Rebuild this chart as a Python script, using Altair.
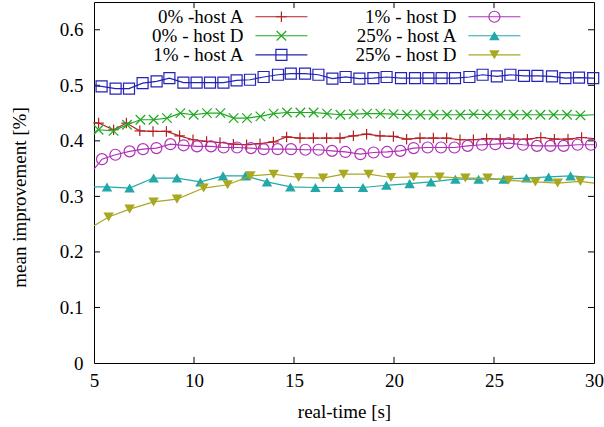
import altair as alt
import pandas as pd

FONT = "Liberation Serif"
FS = 19

SERIES = ["0% -host A", "0% - host D", "1% - host A", "1% - host D", "25% - host A", "25% - host D"]
COLORS = ["#b22222", "#22a822", "#2323b5", "#b030b8", "#22a8a8", "#a8a822"]

RED_T = [5.23, 5.98, 6.62, 7.29, 7.95, 8.62, 9.28, 9.95, 10.63, 11.30, 11.97, 12.63, 13.30, 13.97, 14.63,
         15.30, 15.97, 16.63, 17.30, 17.97, 18.63, 19.30, 19.97, 20.63, 21.30, 21.97, 22.63, 23.30, 23.97,
         24.63, 25.31, 25.99, 26.67, 27.34, 28.02, 28.70, 29.38]
RED_V = [0.432, 0.420, 0.432, 0.418, 0.417, 0.417, 0.409, 0.402, 0.399, 0.397, 0.394, 0.393, 0.395, 0.398,
         0.407, 0.405, 0.405, 0.405, 0.405, 0.409, 0.412, 0.409, 0.408, 0.403, 0.405, 0.405, 0.405, 0.402,
         0.402, 0.404, 0.403, 0.403, 0.403, 0.406, 0.403, 0.403, 0.406]

GREEN_T = [5.23, 5.98, 6.65, 7.32, 7.98, 8.65, 9.32, 9.98, 10.65, 11.32, 11.98, 12.65, 13.32, 13.98, 14.65,
           15.32, 15.98, 16.65, 17.32, 17.98, 18.65, 19.32, 19.98, 20.65, 21.32, 21.98, 22.65, 23.32, 23.98,
           24.65, 25.32, 25.98, 26.65, 27.32, 27.98, 28.65, 29.32]
GREEN_V = [0.420, 0.418, 0.429, 0.438, 0.438, 0.441, 0.450, 0.447, 0.450, 0.450, 0.441, 0.441, 0.444, 0.449,
           0.451, 0.451, 0.451, 0.449, 0.447, 0.448, 0.449, 0.449, 0.448, 0.447, 0.447, 0.447, 0.447, 0.447,
           0.448, 0.447, 0.447, 0.447, 0.447, 0.447, 0.447, 0.447, 0.446]

BLUE_T = [5.38, 6.08, 6.75, 7.43, 8.13, 8.77, 9.47, 10.13, 10.80, 11.47, 12.13, 12.80, 13.48, 14.20, 14.84,
          15.55, 16.22, 16.92, 17.58, 18.27, 18.97, 19.63, 20.35, 21.05, 21.72, 22.38, 23.05, 23.77, 24.43,
          25.14, 25.82, 26.50, 27.17, 27.90, 28.57, 29.25, 29.96]
BLUE_V = [0.498, 0.494, 0.494, 0.504, 0.507, 0.513, 0.505, 0.505, 0.505, 0.505, 0.509, 0.510, 0.515, 0.519,
          0.521, 0.521, 0.519, 0.512, 0.515, 0.512, 0.513, 0.515, 0.513, 0.513, 0.513, 0.513, 0.513, 0.515,
          0.519, 0.516, 0.519, 0.517, 0.517, 0.516, 0.513, 0.514, 0.513]

MAG_T = [5.40, 6.07, 6.78, 7.45, 8.12, 8.82, 9.48, 10.15, 10.85, 11.48, 12.15, 12.85, 13.48, 14.18, 14.85,
         15.57, 16.23, 16.90, 17.57, 18.32, 18.98, 19.65, 20.32, 20.98, 21.68, 22.35, 23.02, 23.68, 24.40,
         25.07, 25.73, 26.45, 27.15, 27.82, 28.48, 29.18, 29.85]
MAG_V = [0.367, 0.375, 0.381, 0.385, 0.387, 0.394, 0.392, 0.390, 0.390, 0.388, 0.388, 0.387, 0.385, 0.385,
         0.385, 0.384, 0.384, 0.382, 0.380, 0.376, 0.379, 0.380, 0.382, 0.387, 0.388, 0.388, 0.388, 0.391,
         0.393, 0.394, 0.396, 0.393, 0.391, 0.391, 0.391, 0.393, 0.393]

TEAL_T = [5.65, 6.78, 7.98, 9.15, 10.32, 11.45, 12.57, 13.65, 14.82, 16.07, 17.23, 18.45, 19.62, 20.78,
          21.85, 23.07, 24.23, 25.48, 26.62, 27.73, 28.83]
TEAL_V = [0.317, 0.315, 0.333, 0.333, 0.326, 0.337, 0.337, 0.326, 0.317, 0.316, 0.316, 0.316, 0.320, 0.323,
          0.326, 0.331, 0.331, 0.331, 0.333, 0.335, 0.337]

OLIVE_T = [5.73, 6.78, 7.98, 9.15, 10.48, 11.68, 12.82, 13.98, 15.23, 16.45, 17.48, 18.73, 19.85, 20.98,
           22.28, 23.57, 24.68, 25.73, 27.07, 28.18, 29.32]
OLIVE_V = [0.263, 0.277, 0.290, 0.295, 0.315, 0.321, 0.337, 0.340, 0.334, 0.333, 0.340, 0.340, 0.334, 0.335,
           0.335, 0.333, 0.333, 0.329, 0.326, 0.324, 0.327]

# where each curve meets the left (5 s) and right (30 s) frame
EDGE_START = [0.433, 0.416, 0.499, 0.349, 0.317, 0.247]
EDGE_END = [0.404, 0.447, 0.513, 0.393, 0.334, 0.324]

X_TICKS = [5, 10, 15, 20, 25, 30]
Y_TICKS = [0, 0.1, 0.2, 0.3, 0.4, 0.5, 0.6]

# legend layout (in data units, gnuplot-style key inside the plot)
LEG_TEXT_X = [12.47, 23.12]
LEG_S0 = [13.07, 23.72]
LEG_S1 = [15.67, 26.32]
LEG_M = [14.37, 25.02]
LEG_ROW_Y = [0.6234, 0.5892, 0.5549]

SHAPES = ["M-1,0L1,0M0,-1L0,1", "M-1,-1L1,1M-1,1L1,-1", "square", "circle", "triangle-up", "triangle-down"]
FILLED = [False, False, False, False, True, True]
SIZES = [110, 90, 121, 121, 110, 110]

T_LISTS = [RED_T, GREEN_T, BLUE_T, MAG_T, TEAL_T, OLIVE_T]
V_LISTS = [RED_V, GREEN_V, BLUE_V, MAG_V, TEAL_V, OLIVE_V]

rows = []
for i, name in enumerate(SERIES):
    rows.append(dict(series=name, t=5.0, v=EDGE_START[i], marker=False))
    for t, v in zip(T_LISTS[i], V_LISTS[i]):
        rows.append(dict(series=name, t=t, v=v, marker=True))
    rows.append(dict(series=name, t=30.0, v=EDGE_END[i], marker=False))
df = pd.DataFrame(rows)

leg_rows = []
for i, name in enumerate(SERIES):
    c, r = i // 3, i % 3
    leg_rows.append(dict(series=name, label=name, t=LEG_TEXT_X[c], t0=LEG_S0[c], t1=LEG_S1[c],
                         tm=LEG_M[c], v=LEG_ROW_Y[r]))
leg = pd.DataFrame(leg_rows)

XS = alt.Scale(domain=[5, 30], nice=False, zero=False)
YS = alt.Scale(domain=[0, 0.65], nice=False, zero=False)
X_AX = alt.Axis(values=X_TICKS, format="d", title="real-time [s]", labelPadding=8, labelFlush=False,
                titleY=48, titleBaseline="middle", labelFont=FONT, titleFont=FONT,
                labelFontSize=FS, titleFontSize=FS)
Y_AX = alt.Axis(values=Y_TICKS, labelExpr="datum.value == 0 ? '0' : format(datum.value, '.1f')",
                title="mean improvement [%]", labelPadding=11, labelFlush=False,
                titleX=-75, titleY=195, titleBaseline="middle", titleAlign="center",
                labelFont=FONT, titleFont=FONT, labelFontSize=FS, titleFontSize=FS)


def X(field):
    return alt.X(f"{field}:Q", scale=XS, axis=X_AX)


def Y(field):
    return alt.Y(f"{field}:Q", scale=YS, axis=Y_AX)


COLOR = alt.Color("series:N", scale=alt.Scale(domain=SERIES, range=COLORS), legend=None)

# inward ticks on all four sides (gnuplot style)
TLX = 0.3     # tick length along x, in seconds (~6 px)
TLY = 0.011   # tick length along y, in data units (~6 px)
vt = []
for xt in X_TICKS[1:-1]:
    vt.append(dict(t=xt, v=0.0, v2=TLY))
    vt.append(dict(t=xt, v=0.65, v2=0.65 - TLY))
ht = []
for yt in Y_TICKS[1:]:
    ht.append(dict(v=yt, t=5.0, t2=5.0 + TLX))
    ht.append(dict(v=yt, t=30.0, t2=30.0 - TLX))

vticks = alt.Chart(pd.DataFrame(vt)).mark_rule(color="black", strokeWidth=1).encode(
    x=X("t"), y=Y("v"), y2="v2:Q")
hticks = alt.Chart(pd.DataFrame(ht)).mark_rule(color="black", strokeWidth=1).encode(
    y=Y("v"), x=X("t"), x2="t2:Q")

layers = [vticks, hticks]

for i, name in enumerate(SERIES):
    sub = df[df.series == name]
    line = alt.Chart(sub).mark_line(strokeWidth=1.2, color=COLORS[i]).encode(x=X("t"), y=Y("v"))
    pts = alt.Chart(sub[sub.marker]).mark_point(
        shape=SHAPES[i], filled=FILLED[i], size=SIZES[i], strokeWidth=1.2, color=COLORS[i], opacity=1
    ).encode(x=X("t"), y=Y("v"))
    layers += [line, pts]

leg_text = alt.Chart(leg).mark_text(align="right", baseline="middle", font=FONT, fontSize=FS,
                                    color="black").encode(x=X("t"), y=Y("v"), text="label:N")
leg_rule = alt.Chart(leg).mark_rule(strokeWidth=1.2).encode(x=X("t0"), x2="t1:Q", y=Y("v"), color=COLOR)
layers += [leg_text, leg_rule]
for i, name in enumerate(SERIES):
    lp = alt.Chart(leg[leg.series == name]).mark_point(
        shape=SHAPES[i], filled=FILLED[i], size=SIZES[i], strokeWidth=1.2, color=COLORS[i], opacity=1
    ).encode(x=X("tm"), y=Y("v"))
    layers.append(lp)

chart = alt.layer(*layers).properties(
    width=500, height=361,
    padding={"left": 94, "top": 2, "right": 10, "bottom": 64},
    autosize=alt.AutoSizeParams(type="none"),
).configure(font=FONT).configure_view(stroke="black", strokeWidth=1).configure_axis(
    labelFont=FONT, titleFont=FONT, labelFontSize=FS, titleFontSize=FS, labelColor="black",
    titleColor="black", titleFontWeight="normal", grid=False, ticks=False, domain=False
)

chart.save("out.html", embed_options={"renderer": "svg", "actions": False})
